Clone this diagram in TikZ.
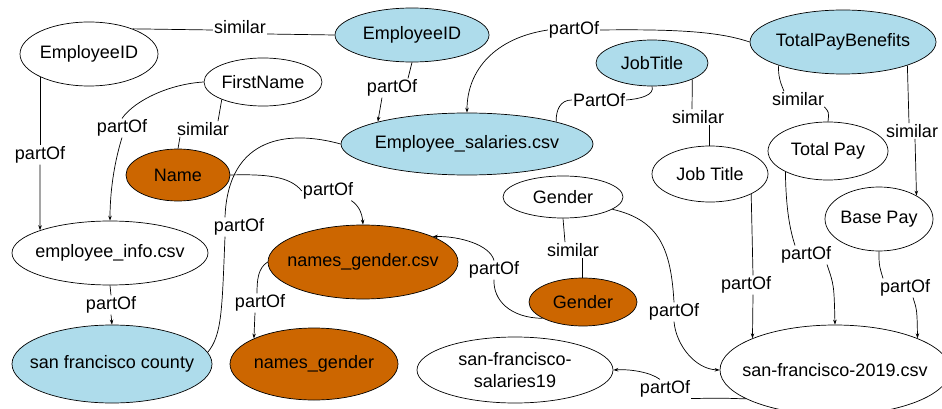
\documentclass[tikz,border=0pt]{standalone}
\usepackage{fontspec}
\setmainfont{Liberation Sans}
\usetikzlibrary{shapes.geometric,arrows.meta}
\definecolor{nblue}{RGB}{174,220,235}
\definecolor{norange}{RGB}{204,102,0}
\tikzset{
  ent/.style={ellipse, draw=black, line width=0.7pt, inner sep=0pt},
  wh/.style={ent, fill=white},
  bl/.style={ent, fill=nblue},
  orn/.style={ent, fill=norange},
  lab/.style={inner sep=1pt},
  edge/.style={line width=0.7pt},
  arr/.style={line width=0.7pt, -{Stealth[length=5pt,width=3.5pt]}},
}
\begin{document}
\begin{tikzpicture}[x=1pt, y=-1pt, font=\fontsize{18}{22}\selectfont]
\useasboundingbox (0,0) rectangle (942,409);
% nodes
\node[wh, minimum width=138pt, minimum height=64pt, label=center:EmployeeID] (e1) at (89,54) {};
\node[bl, minimum width=154pt, minimum height=54pt, label=center:EmployeeID] (e2) at (412,35) {};
\node[wh, minimum width=118pt, minimum height=48pt, label=center:FirstName] (fn) at (263,82) {};
\node[orn, minimum width=104pt, minimum height=52pt, label=center:Name] (nm) at (178,175) {};
\node[bl, minimum width=252pt, minimum height=62pt, label=center:Employee\_salaries.csv] (es) at (467,144) {};
\node[bl, minimum width=112pt, minimum height=46pt, label=center:JobTitle] (jt) at (652,63) {};
\node[bl, minimum width=186pt, minimum height=64pt, label=center:TotalPayBenefits] (tpb) at (843,42) {};
\node[wh, minimum width=116pt, minimum height=56pt, label=center:Job Title] (jt2) at (710,174) {};
\node[wh, minimum width=120pt, minimum height=58pt, label=center:Total Pay] (tp) at (828,151) {};
\node[wh, minimum width=108pt, minimum height=64pt, label=center:Base Pay] (bp) at (879,219) {};
\node[wh, minimum width=120pt, minimum height=42pt, label=center:Gender] (gw) at (563,197) {};
\node[orn, minimum width=108pt, minimum height=48pt, label=center:Gender] (go) at (583,302) {};
\node[orn, minimum width=190pt, minimum height=74pt, label=center:names\_gender.csv] (ngc) at (363,262) {};
\node[orn, minimum width=168pt, minimum height=72pt, label=center:names\_gender] (ng) at (314,364) {};
\node[wh, minimum width=196pt, minimum height=64pt, label=center:employee\_info.csv] (ei) at (110,253) {};
\node[bl, minimum width=200pt, minimum height=78pt, label=center:san francisco county] (sfc) at (112,364) {};
\node[wh, minimum width=196pt, minimum height=66pt, label={[align=center]center:san-francisco-\\salaries19}] (sal) at (515,370) {};
\node[wh, minimum width=230pt, minimum height=90pt, label=center:san-francisco-2019.csv] (sf) at (835,370) {};
% edge labels
\node[lab] (s1) at (240,27) {similar};
\node[lab] (p1) at (40,155) {partOf};
\node[lab] (p2) at (122,128) {partOf};
\node[lab] (s2) at (203,129) {similar};
\node[lab] (p3) at (328,191) {partOf};
\node[lab] (p4) at (239,227) {partOf};
\node[lab] (p5) at (392,88) {partOf};
\node[lab] (p6) at (574,30) {partOf};
\node[lab] (p7) at (599,100) {PartOf};
\node[lab] (s3) at (698,117) {similar};
\node[lab] (s4) at (798,99) {similar};
\node[lab] (s5) at (912,131) {similar};
\node[lab] (s6) at (573,250) {similar};
\node[lab] (p8) at (494,270) {partOf};
\node[lab] (p9) at (260,303) {partOf};
\node[lab] (p10) at (111,305) {partOf};
\node[lab] (p11) at (674,312) {partOf};
\node[lab] (p12) at (746,285) {partOf};
\node[lab] (p13) at (806,255) {partOf};
\node[lab] (p14) at (905,288) {partOf};
\node[lab] (p15) at (665,389) {partOf};
% edges
\draw[edge] (e1.30) -- ([yshift=-3pt]s1.west);
\draw[edge] ([yshift=-7pt]s1.east) -- (e2.west);
\draw[edge] (e1.205) -- (e1.205 |- p1.north);
\draw[arr] (p1.south) -- (ei.162);
\draw[edge] (fn.west) .. controls (170,84) and (135,100) .. (p2.north);
\draw[arr] (p2.south) .. controls (112,170) and (110,200) .. (ei.north);
\draw[edge] (fn.203) -- ([xshift=15pt]s2.north);
\draw[edge] ([xshift=-23pt]s2.south) -- (nm.north);
\draw[edge] (nm.east) .. controls (265,174) and (290,176) .. (p3.west);
\draw[arr] ([xshift=-3pt]p3.south east) .. controls (358,205) and (362,212) .. (ngc.north);
\draw[edge] (es.west) .. controls (290,130) and (228,135) .. ([xshift=-14pt]p4.north);
\draw[edge] ([xshift=-14pt]p4.south) .. controls (222,310) and (222,335) .. (sfc.7);
\draw[edge] (e2.south) -- ([xshift=16pt]p5.north);
\draw[arr] ([xshift=-10pt]p5.south) .. controls (380,108) .. (es.166);
\draw[edge] (tpb.west) .. controls (720,32) and (680,29) .. (p6.east);
\draw[arr] (p6.west) .. controls (495,38) and (467,70) .. (es.north);
\draw[edge] (jt.south) .. controls (655,95) and (640,99) .. (p7.east);
\draw[edge] (p7.west) .. controls (560,100) and (556,110) .. (es.14);
\draw[edge] (jt.338) -- ([xshift=-6pt]s3.north);
\draw[edge] ([xshift=11pt]s3.south) -- ([xshift=-1pt]jt2.north);
\draw[edge] (tpb.200) .. controls (778,75) and (780,82) .. ([xshift=-14pt]s4.north);
\draw[edge] ([xshift=-1pt]s4.south east) .. controls (829,112) .. (tp.north);
\draw[edge] (tpb.340) -- ([xshift=-3pt]s5.north);
\draw[arr] ([xshift=3pt]s5.south) -- (bp.32);
\draw[edge] (gw.south) -- ([xshift=-8pt]s6.north);
\draw[edge] ([xshift=9pt]s6.south) -- ([xshift=-1pt]go.north);
\draw[edge] (go.202) .. controls (510,318) and (493,300) .. (p8.south);
\draw[arr] (p8.north) .. controls (490,245) and (460,236) .. (ngc.20);
\draw[edge] (ngc.west) .. controls (258,268) and (257,280) .. ([xshift=-3pt]p9.north);
\draw[arr] ([xshift=-5pt]p9.south) -- (ng.157);
\draw[edge] (ei.south) -- (p10.north);
\draw[arr] (p10.south) -- (sfc.north);
\draw[edge] (gw.346) .. controls (660,220) and (671,250) .. (p11.north);
\draw[arr] (p11.south) .. controls (676,345) and (695,369) .. (sf.west);
\draw[edge] (jt2.334) .. controls (752,230) .. ([xshift=7pt]p12.north);
\draw[arr] ([xshift=7pt]p12.south) -- (sf.159);
\draw[edge] (tp.206) .. controls (786,210) and (790,230) .. ([xshift=-11pt]p13.north);
\draw[arr] ([xshift=21pt]p13.south) .. controls (834,285) .. (sf.north);
\draw[edge] (bp.south) .. controls (879,265) .. ([xshift=-22pt]p14.north);
\draw[arr] ([xshift=8pt]p14.south) .. controls (917,310) .. (sf.21);
\draw[edge] (sf.198) .. controls (720,398) .. (p15.south east);
\draw[arr] ([xshift=-5pt]p15.north) .. controls (650,372) and (630,369) .. (sal.east);
\end{tikzpicture}
\end{document}
